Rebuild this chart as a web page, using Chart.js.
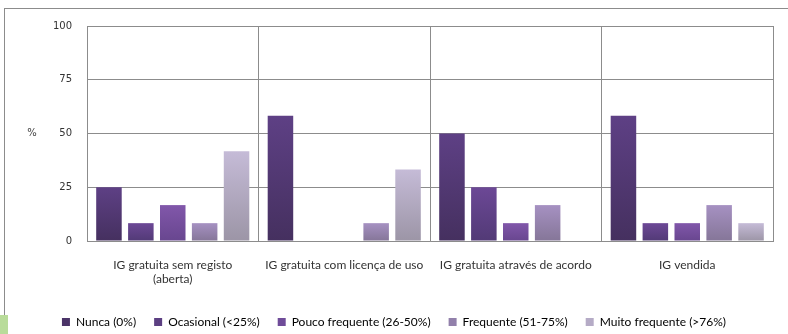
<!DOCTYPE html>
<html>
<head>
<meta charset="utf-8">
<script src="https://cdn.jsdelivr.net/npm/chart.js@4/dist/chart.umd.min.js"></script>
<style>
  html, body { margin: 0; padding: 0; background: #fff; }
  #wrap { position: relative; width: 788px; height: 334px; overflow: hidden; }
  #frame { position: absolute; left: 4px; top: 8px; right: -2px; bottom: -2px; border-top: 1px solid #8c8c8c; border-left: 1px solid #8c8c8c; }
  #strip { position: absolute; left: 0; top: 315px; width: 8px; height: 19px; background: #b9dc9a; }
  #usoChart { position: absolute; left: 0; top: 0; }
</style>
</head>
<body>
<div id="wrap">
  <div id="frame"></div>
  <div id="strip"></div>
  <canvas id="usoChart" width="788" height="334"></canvas>
</div>
<script>
const categories = [
  ['IG gratuita sem registo', '(aberta)'],
  'IG gratuita com licença de uso',
  'IG gratuita através de acordo',
  'IG vendida'
];
const yTicks = [0, 25, 50, 75, 100];

const nunca      = [25, 58.3, 50, 58.3];
const ocasional  = [8.3, 0, 25, 8.3];
const pouco      = [16.7, 0, 8.3, 8.3];
const frequente  = [8.3, 8.3, 16.7, 16.7];
const muito      = [41.7, 33.3, 0, 8.3];

const seriesNames = ['Nunca (0%)', 'Ocasional (<25%)', 'Pouco frequente (26-50%)', 'Frequente (51-75%)', 'Muito frequente (>76%)'];
const seriesData = [nunca, ocasional, pouco, frequente, muito];
// top / bottom shade of each bar, plus the flat legend swatch
const shades = [
  ['#5e4085', '#45305f', '#4b3468'],
  ['#6c4896', '#523a76', '#5c3f82'],
  ['#8157aa', '#68468f', '#6f4c99'],
  ['#a691c2', '#857698', '#9280ab'],
  ['#c5bbd7', '#9c95a6', '#b5abc6']
];

function barFill(i) {
  return ctx => {
    const chart = ctx.chart;
    if (!chart.chartArea || ctx.raw === undefined) return shades[i][2];
    const y = chart.scales.y;
    const top = y.getPixelForValue(ctx.raw);
    const bottom = y.getPixelForValue(0);
    if (bottom - top < 1) return shades[i][2];
    const g = chart.ctx.createLinearGradient(0, top, 0, bottom);
    g.addColorStop(0, shades[i][0]);
    g.addColorStop(1, shades[i][1]);
    return g;
  };
}

const datasets = seriesData.map((vals, i) => ({
  label: seriesNames[i],
  data: vals,
  backgroundColor: barFill(i),
  borderWidth: 0,
  categoryPercentage: 0.93,
  barPercentage: 0.8
}));

// "%" sits horizontally to the left of the value ticks
const percentLabel = {
  id: 'percentLabel',
  afterDraw(chart) {
    const c = chart.ctx;
    const y = chart.scales.y;
    c.save();
    c.font = '10px "DejaVu Sans"';
    c.fillStyle = '#404040';
    c.textAlign = 'center';
    c.textBaseline = 'middle';
    c.fillText('%', 32, y.getPixelForValue(50));
    c.restore();
  }
};

new Chart(document.getElementById('usoChart'), {
  type: 'bar',
  data: { labels: categories, datasets: datasets },
  plugins: [percentLabel],
  options: {
    responsive: false,
    animation: false,
    devicePixelRatio: 1,
    layout: { padding: { top: 26, right: 15, left: 15, bottom: -4 } },
    plugins: {
      tooltip: { enabled: false },
      legend: {
        position: 'bottom',
        labels: {
          boxWidth: 8,
          boxHeight: 8,
          padding: 18,
          color: '#333',
          font: { family: 'Lato', size: 12 },
          generateLabels(chart) {
            return chart.data.datasets.map((d, i) => ({
              text: d.label,
              fillStyle: shades[i][2],
              strokeStyle: shades[i][2],
              lineWidth: 0,
              hidden: false,
              datasetIndex: i
            }));
          }
        }
      }
    },
    scales: {
      x: {
        grid: { color: '#8c8c8c', drawTicks: false, offset: true },
        border: { color: '#8c8c8c' },
        ticks: {
          color: '#333',
          padding: 17,
          maxRotation: 0,
          autoSkip: false,
          font: { family: 'Lato', size: 12 }
        },
        afterFit(s) { s.height = 57; }
      },
      y: {
        min: 0,
        max: 100,
        afterBuildTicks(s) { s.ticks = yTicks.map(v => ({ value: v })); },
        grid: { color: '#8c8c8c', drawTicks: false },
        border: { color: '#8c8c8c' },
        ticks: {
          color: '#333',
          padding: 15,
          font: { family: 'DejaVu Sans', size: 10 }
        },
        afterFit(s) { s.width = 72; }
      }
    }
  }
});
</script>
</body>
</html>
